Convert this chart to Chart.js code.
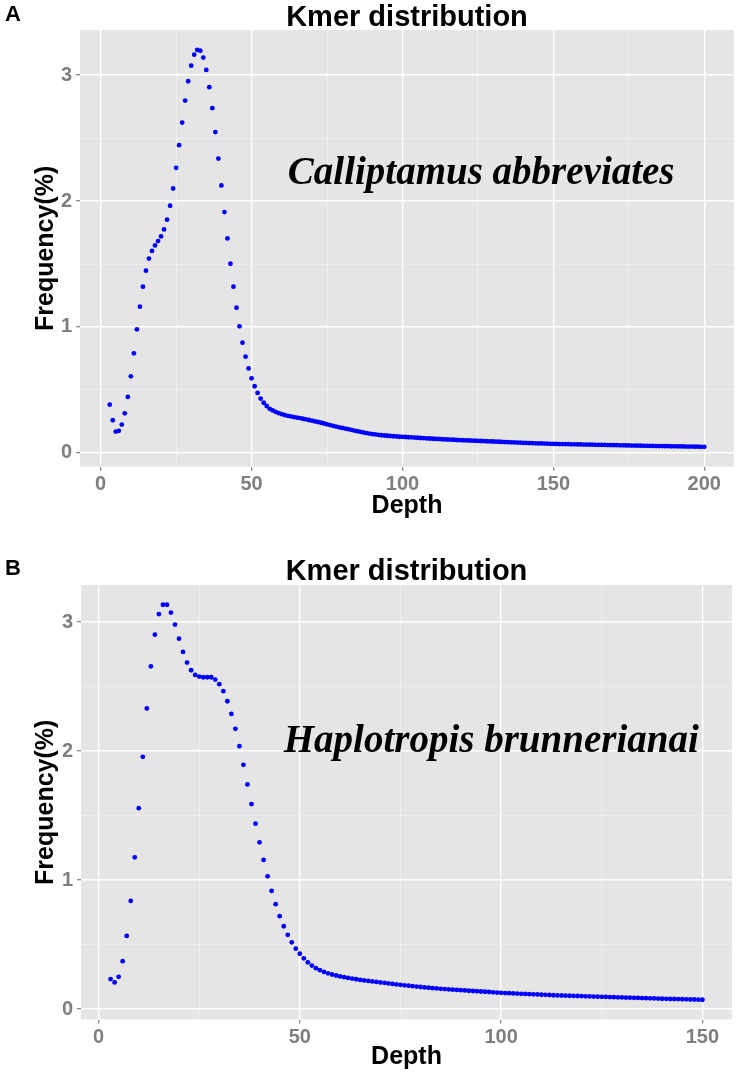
<!DOCTYPE html>
<html><head><meta charset="utf-8">
<script src="https://cdn.jsdelivr.net/npm/chart.js@4.4.1/dist/chart.umd.min.js"></script>
<style>
html,body{margin:0;padding:0;background:#fff;}
#wrap{position:relative;width:739px;height:1077px;overflow:hidden;background:#fff;}
.panel{position:absolute;left:0;width:739px;}
.letter{position:absolute;left:5px;font:bold 22px "Liberation Sans",Arial,sans-serif;line-height:22px;color:#000;}
</style></head><body>
<div id="wrap">
<div class="panel" style="top:0;height:520px"><canvas id="cA" width="739" height="520"></canvas></div>
<div class="panel" style="top:540px;height:537px"><canvas id="cB" width="739" height="537"></canvas></div>
<div class="letter" style="top:3px">A</div>
<div class="letter" style="top:557px">B</div>
</div>
<script>
// ---------- Panel A data ----------
const depthA = [
3,4,5,6,7,8,9,10,11,12,13,14,15,16,17,18,19,20,21,22,
23,24,25,26,27,28,29,30,31,32,33,34,35,36,37,38,39,40,41,42,
43,44,45,46,47,48,49,50,51,52,53,54,55,56,57,58,59,60,61,62,
63,64,65,66,67,68,69,70,71,72,73,74,75,76,77,78,79,80,81,82,
83,84,85,86,87,88,89,90,91,92,93,94,95,96,97,98,99,100,101,102,
103,104,105,106,107,108,109,110,111,112,113,114,115,116,117,118,119,120,121,122,
123,124,125,126,127,128,129,130,131,132,133,134,135,136,137,138,139,140,141,142,
143,144,145,146,147,148,149,150,151,152,153,154,155,156,157,158,159,160,161,162,
163,164,165,166,167,168,169,170,171,172,173,174,175,176,177,178,179,180,181,182,
183,184,185,186,187,188,189,190,191,192,193,194,195,196,197,198,199,200];
const freqA = [
0.383,0.259,0.169,0.175,0.225,0.314,0.444,0.608,0.791,0.981,
1.161,1.320,1.447,1.543,1.604,1.648,1.682,1.719,1.775,1.852,
1.963,2.100,2.264,2.444,2.624,2.798,2.952,3.076,3.163,3.201,
3.195,3.140,3.042,2.905,2.738,2.548,2.338,2.124,1.913,1.703,
1.502,1.320,1.153,1.005,0.875,0.764,0.671,0.592,0.529,0.476,
0.431,0.398,0.372,0.350,0.337,0.325,0.315,0.307,0.300,0.294,
0.289,0.284,0.280,0.276,0.271,0.266,0.261,0.256,0.250,0.245,
0.239,0.233,0.227,0.221,0.215,0.209,0.203,0.198,0.193,0.188,
0.183,0.177,0.172,0.167,0.162,0.157,0.153,0.149,0.146,0.143,
0.140,0.138,0.136,0.134,0.132,0.130,0.128,0.127,0.126,0.124,
0.123,0.121,0.120,0.118,0.117,0.115,0.114,0.112,0.111,0.110,
0.108,0.107,0.106,0.105,0.104,0.102,0.101,0.100,0.099,0.098,
0.097,0.096,0.095,0.094,0.093,0.092,0.091,0.090,0.089,0.088,
0.087,0.086,0.085,0.084,0.083,0.082,0.081,0.080,0.079,0.078,
0.077,0.076,0.075,0.075,0.074,0.073,0.072,0.071,0.071,0.070,
0.070,0.069,0.069,0.068,0.068,0.067,0.067,0.066,0.066,0.065,
0.065,0.064,0.064,0.063,0.063,0.062,0.062,0.061,0.061,0.060,
0.060,0.059,0.059,0.058,0.058,0.057,0.057,0.056,0.056,0.055,
0.055,0.054,0.054,0.054,0.053,0.053,0.052,0.052,0.052,0.051,
0.051,0.050,0.050,0.050,0.049,0.049,0.048,0.048];
const xTicksA = [0, 50, 100, 150, 200];

// ---------- Panel B data ----------
const depthB = [
3,4,5,6,7,8,9,10,11,12,13,14,15,16,17,18,19,20,21,22,
23,24,25,26,27,28,29,30,31,32,33,34,35,36,37,38,39,40,41,42,
43,44,45,46,47,48,49,50,51,52,53,54,55,56,57,58,59,60,61,62,
63,64,65,66,67,68,69,70,71,72,73,74,75,76,77,78,79,80,81,82,
83,84,85,86,87,88,89,90,91,92,93,94,95,96,97,98,99,100,101,102,
103,104,105,106,107,108,109,110,111,112,113,114,115,116,117,118,119,120,121,122,
123,124,125,126,127,128,129,130,131,132,133,134,135,136,137,138,139,140,141,142,
143,144,145,146,147,148,149,150];
const freqB = [
0.232,0.206,0.250,0.371,0.567,0.838,1.176,1.557,1.955,2.330,
2.657,2.902,3.062,3.134,3.134,3.073,2.980,2.871,2.768,2.686,
2.626,2.590,2.577,2.572,2.572,2.572,2.554,2.518,2.464,2.386,
2.288,2.172,2.038,1.893,1.741,1.589,1.437,1.292,1.156,1.029,
0.916,0.813,0.720,0.642,0.575,0.517,0.468,0.429,0.393,0.362,
0.337,0.317,0.301,0.288,0.277,0.268,0.260,0.253,0.247,0.241,
0.236,0.231,0.226,0.222,0.218,0.214,0.210,0.206,0.203,0.199,
0.195,0.191,0.188,0.184,0.181,0.177,0.174,0.171,0.168,0.165,
0.162,0.160,0.157,0.155,0.152,0.150,0.148,0.146,0.144,0.142,
0.140,0.138,0.136,0.134,0.132,0.130,0.128,0.126,0.124,0.123,
0.121,0.120,0.118,0.117,0.115,0.114,0.113,0.111,0.110,0.109,
0.107,0.106,0.105,0.104,0.103,0.102,0.101,0.100,0.099,0.098,
0.097,0.096,0.095,0.094,0.093,0.092,0.091,0.090,0.089,0.088,
0.087,0.086,0.085,0.084,0.083,0.082,0.081,0.080,0.079,0.078,
0.078,0.077,0.076,0.075,0.074,0.074,0.073,0.072];
const xTicksB = [0, 50, 100, 150];
const yTicks = [0, 1, 2, 3];

const titleText = 'Kmer distribution';
const speciesA = 'Calliptamus abbreviates';
const speciesB = 'Haplotropis brunnerianai';

// ---------- drawing helpers ----------
const SANS = '"Liberation Sans", Arial, Helvetica, sans-serif';
const SERIF = '"Liberation Serif", "Times New Roman", serif';

const panelPlugin = {
  id: 'panel',
  beforeDraw(chart) {
    const {ctx, chartArea: a} = chart;
    ctx.save();
    ctx.fillStyle = '#e5e5e5';
    ctx.fillRect(a.left, a.top, a.right - a.left, a.bottom - a.top);
    ctx.restore();
  },
  afterDraw(chart, args, opts) {
    const {ctx, chartArea: a, scales} = chart;
    ctx.save();
    ctx.fillStyle = '#000';
    ctx.font = 'bold 29px ' + SANS;
    ctx.textAlign = 'center';
    ctx.textBaseline = 'alphabetic';
    ctx.fillText(opts.title, (a.left + a.right) / 2, opts.titleBaseline);
    ctx.font = 'italic bold 39px ' + SERIF;
    ctx.textAlign = 'left';
    ctx.fillText(opts.label, scales.x.getPixelForValue(opts.labelX), scales.y.getPixelForValue(opts.labelY));
    ctx.restore();
  }
};

function makeChart(id, depth, freq, cfg) {
  const isMajorX = v => cfg.xTicks.includes(v);
  const isMajorY = v => yTicks.includes(v);
  return new Chart(document.getElementById(id), {
    type: 'scatter',
    data: {
      datasets: [{
        data: depth.map((d, i) => ({x: d, y: freq[i]})),
        backgroundColor: '#0000ff',
        borderWidth: 0,
        pointRadius: 2.4,
        pointHoverRadius: 2.4
      }]
    },
    plugins: [panelPlugin],
    options: {
      responsive: false,
      animation: false,
      events: [],
      layout: {padding: {top: cfg.padTop, right: cfg.padRight, left: 0, bottom: 0}},
      plugins: {
        legend: {display: false},
        tooltip: {enabled: false},
        title: {display: false},
        panel: {title: titleText, titleBaseline: cfg.titleBaseline, label: cfg.label, labelX: cfg.labelX, labelY: cfg.labelY}
      },
      scales: {
        x: {
          type: 'linear', position: 'bottom',
          min: cfg.xMin, max: cfg.xMax,
          afterFit: s => { s.height = cfg.xHeight; },
          border: {display: false},
          grid: {
            color: c => (c.tick && isMajorX(c.tick.value)) ? '#ffffff' : '#f2f2f2',
            lineWidth: c => (c.tick && isMajorX(c.tick.value)) ? 1.4 : 0.7,
            tickColor: c => (c.tick && isMajorX(c.tick.value)) ? '#7f7f7f' : 'rgba(0,0,0,0)',
            tickLength: 4, tickWidth: 1.2
          },
          ticks: {
            stepSize: 25, includeBounds: false, autoSkip: false, maxRotation: 0, minRotation: 0,
            padding: 2, color: '#7f7f7f',
            font: {family: SANS, size: 20, weight: 'bold', lineHeight: 1.2},
            callback: v => isMajorX(v) ? String(v) : ''
          },
          title: {
            display: true, text: 'Depth', color: '#000',
            font: {family: SANS, size: 25, weight: 'bold', lineHeight: 1},
            padding: {top: 0, bottom: cfg.depthPad}
          }
        },
        y: {
          type: 'linear', position: 'left',
          min: cfg.yMin, max: cfg.yMax,
          afterFit: s => { s.width = cfg.yWidth; },
          border: {display: false},
          grid: {
            color: c => (c.tick && isMajorY(c.tick.value)) ? '#ffffff' : '#f2f2f2',
            lineWidth: c => (c.tick && isMajorY(c.tick.value)) ? 1.4 : 0.7,
            tickColor: c => (c.tick && isMajorY(c.tick.value)) ? '#7f7f7f' : 'rgba(0,0,0,0)',
            tickLength: 4, tickWidth: 1.2
          },
          ticks: {
            stepSize: 0.5, includeBounds: false, autoSkip: false,
            padding: 4, color: '#7f7f7f',
            font: {family: SANS, size: 20, weight: 'bold', lineHeight: 1.2},
            callback: v => isMajorY(v) ? String(v) : ''
          },
          title: {
            display: true, text: 'Frequency(%)', color: '#000',
            font: {family: SANS, size: 25, weight: 'bold', lineHeight: 1},
            padding: {top: 33.5, bottom: 0}
          }
        }
      }
    }
  });
}

makeChart('cA', depthA, freqA, {
  xTicks: xTicksA, xMin: -6.85, xMax: 209.85, yMin: -0.110, yMax: 3.359,
  padTop: 30, padRight: 5, xHeight: 53.3, yWidth: 80, depthPad: 1.5,
  titleBaseline: 26, label: speciesA, labelX: 62, labelY: 2.135
});
makeChart('cB', depthB, freqB, {
  xTicks: xTicksB, xMin: -4.35, xMax: 157.35, yMin: -0.081, yMax: 3.287,
  padTop: 45, padRight: 7, xHeight: 57.5, yWidth: 81, depthPad: 7.5,
  titleBaseline: 40, label: speciesB, labelX: 46, labelY: 1.99
});
</script>
</body></html>
